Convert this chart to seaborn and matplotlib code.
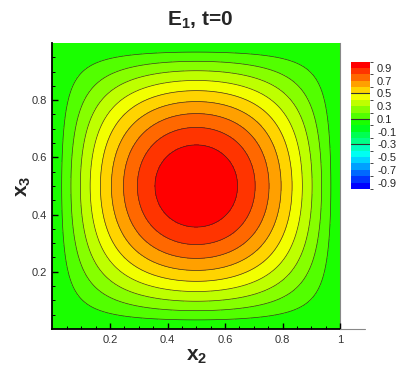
import numpy as np
import matplotlib
matplotlib.use("Agg")
import matplotlib.pyplot as plt
import seaborn as sns
from matplotlib.colors import ListedColormap, BoundaryNorm, LinearSegmentedColormap

# grid for the initial field E1(x2, x3) at t=0
x2 = np.linspace(0.0, 1.0, 241)
x3 = np.linspace(0.0, 1.0, 241)
levels = np.round(np.arange(-1.0, 1.01, 0.1), 2)
line_levels = np.round(np.arange(0.1, 0.91, 0.1), 2)
cbar_ticks = [0.9, 0.7, 0.5, 0.3, 0.1, -0.1, -0.3, -0.5, -0.7, -0.9]
x_ticks = [0.2, 0.4, 0.6, 0.8, 1.0]
x_ticklabels = ["0.2", "0.4", "0.6", "0.8", "1"]
y_ticks = [0.2, 0.4, 0.6, 0.8]
# tecplot style "small rainbow"
rainbow_anchors = ["#0000ff", "#00ffff", "#00ff00", "#ffff00", "#ff0000"]

X2, X3 = np.meshgrid(x2, x3)
E1 = np.sin(np.pi * X2) * np.sin(np.pi * X3)

sns.set_style("ticks")
plt.rcParams["font.family"] = ["Liberation Sans", "DejaVu Sans"]
plt.rcParams["mathtext.fontset"] = "custom"
plt.rcParams["mathtext.rm"] = "Liberation Sans"
plt.rcParams["mathtext.bf"] = "Liberation Sans:bold"
plt.rcParams["axes.unicode_minus"] = False

base = LinearSegmentedColormap.from_list("small_rainbow", rainbow_anchors)
nb = len(levels) - 1
band_colors = [base(i / (nb - 1)) for i in range(nb)]
cmap = ListedColormap(band_colors)
norm = BoundaryNorm(levels, cmap.N)

fig = plt.figure(figsize=(4.15, 3.69), dpi=100)
ax = fig.add_axes([0.1265, 0.1084, 0.6928, 0.7751])
ax.set_axisbelow(False)

cf = ax.contourf(X2, X3, E1, levels=levels, cmap=cmap, norm=norm)
ax.contour(X2, X3, E1, levels=line_levels, colors="#2a2a20", linewidths=0.5, alpha=0.9)

ax.set_xlim(0, 1)
ax.set_ylim(0, 1)
ax.set_xticks(x_ticks)
ax.set_xticklabels(x_ticklabels)
ax.set_yticks(y_ticks)
ax.set_xticks(np.arange(0.05, 1.0, 0.05), minor=True)
ax.set_yticks(np.arange(0.05, 1.0, 0.05), minor=True)
ax.tick_params(which="major", direction="in", length=4.5, width=1.0, labelsize=8,
               color="black", labelcolor="#333333", pad=4)
ax.tick_params(which="minor", direction="in", length=2.5, width=0.7, color="black")
for s in ["left", "bottom"]:
    ax.spines[s].set_linewidth(1.3)
    ax.spines[s].set_color("black")
ax.spines["top"].set_visible(False)
ax.spines["right"].set_color("#888888")
ax.spines["right"].set_linewidth(0.8)

ax.set_xlabel(r"$\mathbf{x_2}$", fontsize=15, labelpad=2)
ax.set_ylabel(r"$\mathbf{x_3}$", fontsize=15, labelpad=-1)
fig.text(0.482, 0.945, r"$\mathbf{E_1}$, t=0", ha="center", va="center",
         fontsize=15, fontweight="bold")

# frame piece to the right of the plot
fig.add_artist(plt.Line2D([0.819, 0.88], [0.1084, 0.1084], color="#888888", lw=0.8))

# legend bar
cax = fig.add_axes([0.846, 0.488, 0.046, 0.345])
cb = fig.colorbar(cf, cax=cax, ticks=cbar_ticks)
cb.outline.set_visible(False)
cax.tick_params(length=0, labelsize=8, pad=5)
for v in [0.5, 0.1, -0.3]:
    cax.axhline(v, color="#333333", lw=0.8)

fig.savefig("out.png", dpi=100)
